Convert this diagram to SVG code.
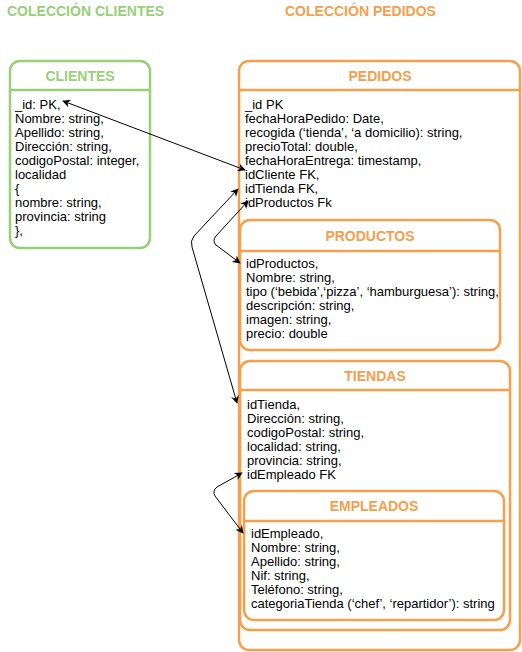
<svg xmlns="http://www.w3.org/2000/svg" width="522" height="652" viewBox="0 0 522 652">
<style>
text{font-family:"Liberation Sans",Arial,sans-serif;}
.g{fill:none;stroke:#97D077;stroke-width:2.5;}
.o{fill:none;stroke:#F5A04D;stroke-width:2.5;}
.bg{fill:#ffffff;}
.tg{fill:#97D077;font-weight:bold;font-size:14px;}
.to{fill:#F5A04D;font-weight:bold;font-size:14px;}
.hd{text-anchor:middle;}
.b{fill:#000000;font-size:13px;}
.c{fill:none;stroke:#000000;stroke-width:1;marker-start:url(#ar);marker-end:url(#ar);}
</style>
<defs>
<marker id="ar" viewBox="0 0 10 10" refX="9" refY="5" markerWidth="8" markerHeight="8" orient="auto-start-reverse" markerUnits="userSpaceOnUse">
<path d="M0,0 L10,5 L0,10 L3,5 z" fill="#000000"/>
</marker>
</defs>
<rect width="522" height="652" fill="#ffffff"/>
<text class="tg" x="7" y="16">COLECCIÓN CLIENTES</text>
<text class="to" x="285" y="16">COLECCIÓN PEDIDOS</text>

<g id="clientes">
<rect class="g" x="10" y="61" width="140" height="187" rx="10"/>
<line class="g" x1="10" y1="90" x2="150" y2="90"/>
<text class="tg hd" x="80" y="81">CLIENTES</text>
<text class="b" x="15" y="108.5">_id: PK,</text>
<text class="b" x="15" y="122.5">Nombre: string,</text>
<text class="b" x="15" y="136.5">Apellido: string,</text>
<text class="b" x="15" y="150.5">Dirección: string,</text>
<text class="b" x="15" y="164.5">codigoPostal: integer,</text>
<text class="b" x="15" y="178.5">localidad</text>
<text class="b" x="15" y="192.5">{</text>
<text class="b" x="15" y="206.5">nombre: string,</text>
<text class="b" x="15" y="220.5">provincia: string</text>
<text class="b" x="15" y="234.5">},</text>
</g>

<g id="pedidos">
<rect class="o" x="239" y="61" width="281" height="589" rx="10"/>
<line class="o" x1="239" y1="90" x2="520" y2="90"/>
<text class="to hd" x="380" y="81">PEDIDOS</text>
<text class="b" x="245" y="108.5">_id PK</text>
<text class="b" x="245" y="122.5">fechaHoraPedido: Date,</text>
<text class="b" x="245" y="136.5">recogida (‘tienda’, ‘a domicilio): string,</text>
<text class="b" x="245" y="150.5">precioTotal: double,</text>
<text class="b" x="245" y="164.5">fechaHoraEntrega: timestamp,</text>
<text class="b" x="245" y="178.5">idCliente FK,</text>
<text class="b" x="245" y="192.5">idTienda FK,</text>
<text class="b" x="245" y="206.5">idProductos Fk</text>
</g>

<g id="productos">
<rect class="o bg" x="240" y="220" width="260" height="130" rx="10"/>
<line class="o" x1="240" y1="251" x2="500" y2="251"/>
<text class="to hd" x="370" y="241">PRODUCTOS</text>
<text class="b" x="246" y="267.5">idProductos,</text>
<text class="b" x="246" y="281.5">Nombre: string,</text>
<text class="b" x="246" y="295.5">tipo (‘bebida’,‘pizza’, ‘hamburguesa’): string,</text>
<text class="b" x="246" y="309.5">descripción: string,</text>
<text class="b" x="246" y="323.5">imagen: string,</text>
<text class="b" x="246" y="337.5">precio: double</text>
</g>

<g id="tiendas">
<rect class="o bg" x="240" y="361" width="270" height="269" rx="10"/>
<line class="o" x1="240" y1="390" x2="510" y2="390"/>
<text class="to hd" x="375" y="381">TIENDAS</text>
<text class="b" x="247" y="408.5">idTienda,</text>
<text class="b" x="247" y="422.5">Dirección: string,</text>
<text class="b" x="247" y="436.5">codigoPostal: string,</text>
<text class="b" x="247" y="450.5">localidad: string,</text>
<text class="b" x="247" y="464.5">provincia: string,</text>
<text class="b" x="247" y="478.5">idEmpleado FK</text>
</g>

<g id="empleados">
<rect class="o bg" x="244" y="491" width="260" height="129" rx="10"/>
<line class="o" x1="244" y1="521" x2="504" y2="521"/>
<text class="to hd" x="374" y="511">EMPLEADOS</text>
<text class="b" x="251" y="537.5">idEmpleado,</text>
<text class="b" x="251" y="551.5">Nombre: string,</text>
<text class="b" x="251" y="565.5">Apellido: string,</text>
<text class="b" x="251" y="579.5">Nif: string,</text>
<text class="b" x="251" y="593.5">Teléfono: string,</text>
<text class="b" x="251" y="607.5">categoriaTienda (‘chef’, ‘repartidor’): string</text>
</g>

<g id="connectors">
<path class="c" d="M 63 101 L 245 170"/>
<path class="c" d="M 238 189 L 194 236 Q 190 241 192 247 L 237 403"/>
<path class="c" d="M 248 201 L 216 236 Q 212 241 216 245 L 240 263"/>
<path class="c" d="M 242 473 L 217 487 Q 212 491 215 496 L 243 533"/>
</g>
</svg>
